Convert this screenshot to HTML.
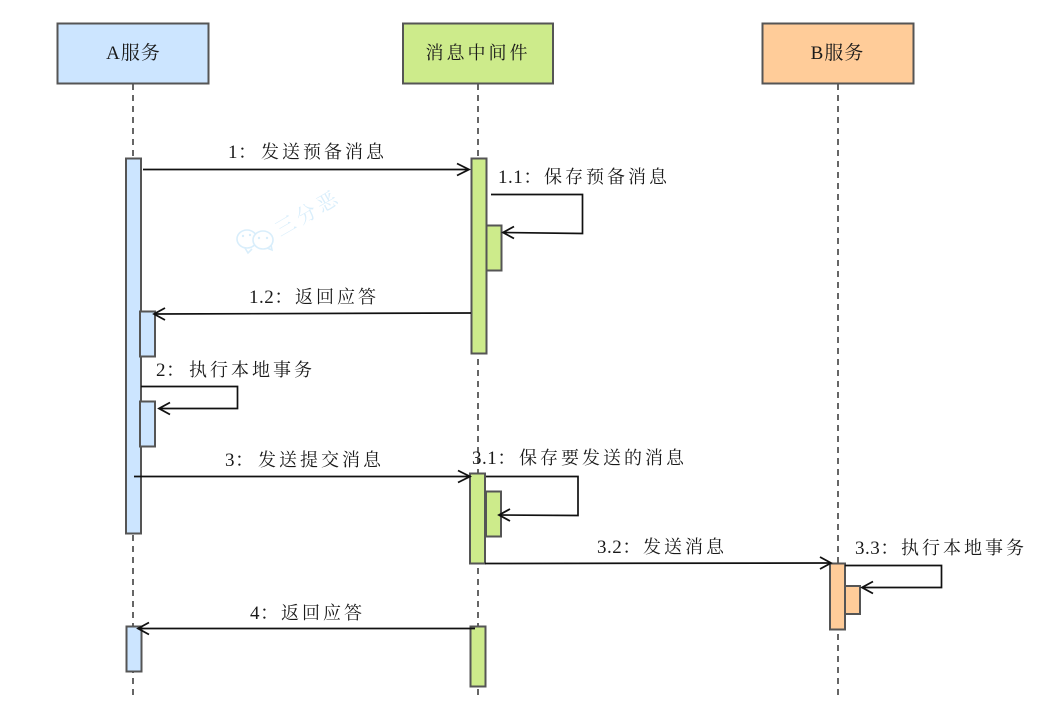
<!DOCTYPE html>
<html lang="zh">
<head>
<meta charset="utf-8">
<style>
html,body{margin:0;padding:0;background:#fff;width:1063px;height:728px;overflow:hidden}
svg{display:block}
text{font-family:"Liberation Serif","Noto Serif CJK SC",serif;font-size:18px;fill:#1a1a1a;letter-spacing:3px}
.n{font-size:19px;letter-spacing:.5px}
.b{fill:none;stroke:#111;stroke-width:1.7}
.h{fill:none;stroke:#111;stroke-width:1.8}
.life{stroke:#333;stroke-width:1.5;stroke-dasharray:6 5;fill:none}
.box{stroke:#555;stroke-width:2}
.blue{fill:#cce5ff}.green{fill:#cdeb8b}.orange{fill:#ffcc99}
</style>
</head>
<body>
<svg width="1063" height="728" viewBox="0 0 1063 728" xmlns="http://www.w3.org/2000/svg">
<!-- lifelines -->
<path class="life" d="M133 84V700"/>
<path class="life" d="M478 84V700"/>
<path class="life" d="M838 84V700"/>

<!-- headers -->
<rect class="box blue" x="57.500" y="23.500" width="151" height="60"/>
<rect class="box green" x="403" y="23.500" width="150" height="60"/>
<rect class="box orange" x="762.500" y="23.500" width="151" height="60"/>
<text x="133.500" y="59" text-anchor="middle" style="font-size:19px;letter-spacing:1px">A服务</text>
<text x="478" y="59" text-anchor="middle">消息中间件</text>
<text x="837.500" y="59" text-anchor="middle" style="font-size:19px;letter-spacing:1px">B服务</text>

<!-- watermark -->
<g fill="none" stroke="#d9eefb" stroke-width="1.600">
<ellipse cx="247" cy="239" rx="10" ry="9"/>
<ellipse cx="263" cy="240" rx="10" ry="9" fill="#fff"/>
<path d="M245 248l3 5 4-4"/>
<path d="M267 248l5 2-1-5"/>
</g>
<g fill="#d9eefb">
<circle cx="243" cy="236" r="1.200"/><circle cx="250" cy="235" r="1.200"/>
<circle cx="259" cy="238" r="1.200"/><circle cx="267" cy="238" r="1.200"/>
</g>
<text transform="translate(280.300,237) rotate(-30)" style="font-size:20px;fill:#d9eefb;letter-spacing:4px">三分恶</text>

<!-- activations A -->
<rect class="box blue" x="126" y="158.500" width="15" height="375"/>
<rect class="box blue" x="140" y="311.500" width="15" height="45"/>
<rect class="box blue" x="140" y="401.500" width="15" height="45"/>
<rect class="box blue" x="126.500" y="626.500" width="15" height="45"/>

<!-- activations M -->
<rect class="box green" x="471.500" y="158.500" width="15" height="195"/>
<rect class="box green" x="486.500" y="225.500" width="15" height="45"/>
<rect class="box green" x="470" y="473.500" width="15" height="90"/>
<rect class="box green" x="486" y="491.500" width="15" height="45"/>
<rect class="box green" x="470.500" y="626.500" width="15" height="60"/>

<!-- activations B -->
<rect class="box orange" x="830" y="563.500" width="15" height="66"/>
<rect class="box orange" x="845" y="586" width="15" height="28"/>

<!-- messages -->
<path class="b" d="M143 169.500H469"/>
<path class="h" d="M457 163.500l12 6-12 6"/>
<text x="228" y="158" class="n">1：</text><text x="261" y="158">发送预备消息</text>

<path class="b" d="M491 194.500H582.500V233.500L503 232.500"/>
<path class="h" d="M514 226.500l-11 6 11 6"/>
<text x="498" y="183" class="n">1.1：</text><text x="544" y="183">保存预备消息</text>

<path class="b" d="M471 313L154 314"/>
<path class="h" d="M165 308l-11 6 11 6"/>
<text x="249" y="303" class="n">1.2：</text><text x="295" y="303">返回应答</text>

<path class="b" d="M141 386.500H237.500V408.500H159"/>
<path class="h" d="M170 402.500l-11 6 11 6"/>
<text x="156" y="376" class="n">2：</text><text x="189" y="376">执行本地事务</text>

<path class="b" d="M134 476.500H469"/>
<path class="h" d="M458 470.500l12 6-12 6"/>
<text x="225" y="466" class="n">3：</text><text x="258" y="466">发送提交消息</text>

<path class="b" d="M486 476.500H578V515.500L499 515"/>
<path class="h" d="M510 509l-11 6 11 6"/>
<text x="472" y="464" class="n">3.1：</text><text x="519" y="464">保存要发送的消息</text>

<path class="b" d="M485 563.500L830 563"/>
<path class="h" d="M820 557l11 6-11 6"/>
<text x="597" y="553" class="n">3.2：</text><text x="643" y="553">发送消息</text>

<path class="b" d="M845 565.500H941.500V587.500H862"/>
<path class="h" d="M873 581.500l-11 6 11 6"/>
<text x="855" y="554" class="n">3.3：</text><text x="901" y="554">执行本地事务</text>

<path class="b" d="M475 628.500H138"/>
<path class="h" d="M149 622.500l-11 6 11 6"/>
<text x="250" y="619" class="n">4：</text><text x="281" y="619">返回应答</text>
</svg>
</body>
</html>
